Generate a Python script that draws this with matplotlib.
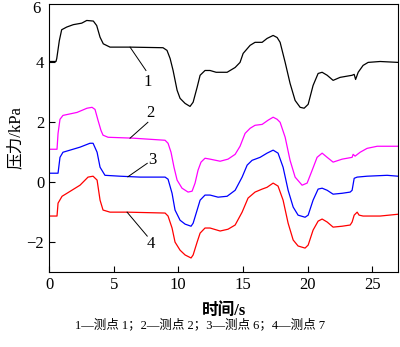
import matplotlib.pyplot as plt
import numpy as np

plt.rcParams['font.family'] = ['Liberation Serif', 'Noto Sans CJK SC']

# 测点 1 (黑)
t1 = [0, 0.54, 0.6, 0.8, 0.98, 1.37, 1.88, 2.53, 2.92, 3.43, 3.69, 3.95, 4.2, 4.72, 6.27, 8.82, 9.13, 9.37,
      9.6, 9.91, 10.14, 10.53, 10.91, 11.15, 11.46, 11.69, 12.07, 12.46, 12.93, 13.78, 14.4, 14.78, 15.02,
      15.56, 15.94, 16.49, 16.87, 17.34, 17.65, 17.88, 18.27, 18.65, 19.04, 19.43, 19.74, 20.05, 20.43,
      20.82, 21.13, 21.52, 21.98, 22.52, 23.45, 23.61, 23.72, 23.92, 24.3, 24.69, 25.62, 27.0]
p1 = [4.03, 4.03, 4.13, 4.73, 5.09, 5.18, 5.26, 5.31, 5.4, 5.38, 5.23, 4.84, 4.62, 4.51, 4.51, 4.49, 4.4, 4.13,
      3.73, 3.07, 2.8, 2.63, 2.53, 2.67, 3.17, 3.57, 3.73, 3.73, 3.67, 3.67, 3.83, 4.0, 4.3,
      4.57, 4.67, 4.67, 4.8, 4.9, 4.83, 4.67, 4.0, 3.3, 2.73, 2.5, 2.47, 2.6, 3.23,
      3.63, 3.67, 3.57, 3.4, 3.5, 3.57, 3.6, 3.43, 3.67, 3.9, 4.0, 4.03, 4.0]

# 测点 2 (品红)
t2 = [0, 0.62, 0.7, 0.85, 1.08, 2.17, 2.94, 3.33, 3.56, 3.79, 4.02, 4.18, 4.57, 6.5, 8.98, 9.21, 9.44, 9.67,
      9.91, 10.29, 10.76, 11.07, 11.3, 11.53, 11.76, 12.07, 12.46, 13.24, 13.85, 14.4, 14.78, 15.17, 15.56,
      15.94, 16.49, 16.95, 17.34, 17.65, 17.88, 18.27, 18.65, 19.04, 19.58, 19.97, 20.36, 20.74, 21.13,
      21.52, 21.98, 22.68, 23.45, 23.53, 23.68, 24.07, 24.61, 25.39, 27.0]
p2 = [1.1, 1.1, 1.63, 2.1, 2.23, 2.33, 2.47, 2.5, 2.43, 2.07, 1.73, 1.57, 1.5, 1.47, 1.4, 1.3, 1.0, 0.5,
      0.07, -0.2, -0.33, -0.3, -0.03, 0.4, 0.67, 0.8, 0.77, 0.7, 0.77, 0.93, 1.2, 1.63, 1.8,
      1.9, 1.93, 2.07, 2.17, 2.1, 2.0, 1.5, 0.73, 0.17, -0.1, -0.03, 0.4, 0.83, 0.97,
      0.83, 0.67, 0.77, 0.83, 0.93, 0.87, 1.0, 1.13, 1.2, 1.2]

# 测点 6 (蓝)
t3 = [0, 0.7, 0.85, 1.08, 2.4, 3.17, 3.41, 3.72, 3.95, 4.33, 5.5, 7.04, 8.98, 9.21, 9.52, 9.75, 10.14, 10.53,
      10.99, 11.15, 11.46, 11.69, 12.07, 12.46, 13.08, 13.78, 14.4, 14.94, 15.33, 15.71, 16.33, 16.87, 17.34,
      17.72, 18.11, 18.5, 18.89, 19.27, 19.81, 20.05, 20.43, 20.82, 21.13, 21.52, 21.98, 22.68, 23.3, 23.45,
      23.61, 23.84, 24.61, 26.16, 27.0]
p3 = [0.3, 0.3, 0.83, 1.0, 1.17, 1.3, 1.3, 1.0, 0.5, 0.23, 0.2, 0.17, 0.17, 0.1, -0.37, -0.93, -1.27, -1.4,
      -1.47, -1.37, -0.93, -0.6, -0.43, -0.43, -0.5, -0.47, -0.27, 0.17, 0.57, 0.73, 0.83, 0.97, 1.07,
      0.97, 0.5, -0.27, -0.83, -1.1, -1.17, -1.1, -0.6, -0.23, -0.2, -0.27, -0.4, -0.37, -0.33, -0.27,
      0.13, 0.17, 0.2, 0.23, 0.2]

# 测点 7 (红)
t4 = [0, 0.62, 0.7, 1.01, 1.39, 2.4, 3.02, 3.41, 3.72, 3.95, 4.18, 4.72, 6.04, 8.98, 9.21, 9.52, 9.75, 10.14,
      10.53, 10.99, 11.15, 11.46, 11.69, 12.07, 12.46, 13.24, 13.85, 14.4, 14.94, 15.4, 15.94, 16.49, 16.87,
      17.34, 17.72, 18.11, 18.5, 18.89, 19.27, 19.81, 20.05, 20.43, 20.82, 21.13, 21.52, 21.98, 22.68, 23.3,
      23.45, 23.61, 23.84, 23.99, 24.3, 25.62, 27.0]
p4 = [-1.13, -1.13, -0.7, -0.47, -0.37, -0.1, 0.17, 0.2, 0.07, -0.6, -0.93, -1.0, -1.0, -1.03, -1.13, -1.53,
      -2.0, -2.27, -2.43, -2.53, -2.43, -2.0, -1.7, -1.53, -1.53, -1.63, -1.57, -1.43, -1.0, -0.53, -0.33,
      -0.23, -0.17, -0.03, -0.13, -0.6, -1.37, -1.93, -2.13, -2.2, -2.1, -1.6, -1.3, -1.23, -1.33, -1.5,
      -1.47, -1.43, -1.33, -1.1, -1.0, -1.1, -1.13, -1.13, -1.07]

series = [(t1, p1, 'black'), (t2, p2, '#ff00ff'), (t3, p3, '#0000ff'), (t4, p4, '#ff0000')]

# 引线: 编号, 曲线上的点, 引线端点, 编号位置
leaders = [('1', (6.27, 4.51), (7.5, 3.73), (7.65, 3.35)),
           ('2', (6.27, 1.47), (7.65, 2.0), (7.85, 2.3)),
           ('3', (6.1, 0.18), (7.6, 0.63), (8.0, 0.75)),
           ('4', (6.04, -1.0), (7.6, -1.8), (7.9, -2.07))]

fig = plt.figure(figsize=(4.0, 3.47), dpi=100)
ax = fig.add_axes([0.1225, 0.216, 0.8725, 0.7725])

for t, p, c in series:
    ax.plot(t, p, color=c, lw=0.9, solid_joinstyle='round')

for lab, a, b, pos in leaders:
    ax.plot([a[0], b[0]], [a[1], b[1]], color='black', lw=0.7)
    ax.text(pos[0], pos[1], lab, fontsize=12, ha='center', va='center')

ax.set_xlim(0, 27)
ax.set_ylim(-3, 5.95)
ax.set_xticks([0, 5, 10, 15, 20, 25])
ax.set_yticks([-2, 0, 2, 4])
ax.set_yticklabels(['\u22122', '0', '2', '4'])
ax.tick_params(direction='in', labelsize=12, length=4, width=0.8)
# 顶端的刻度值 6
ax.text(-0.025, 5.78, '6', transform=ax.get_yaxis_transform(), ha='right', va='center', fontsize=12)
for s in ax.spines.values():
    s.set_linewidth(0.8)

ax.set_xlabel('时间/s', fontsize=12, fontweight='bold', labelpad=7)
ax.set_ylabel('压力/kPa', fontsize=12, labelpad=2)

fig.text(0.5, 0.063, '1—测点 1；2—测点 2；3—测点 6；4—测点 7', ha='center', va='center', fontsize=9)

fig.savefig('out.png', dpi=100)
plt.close()
